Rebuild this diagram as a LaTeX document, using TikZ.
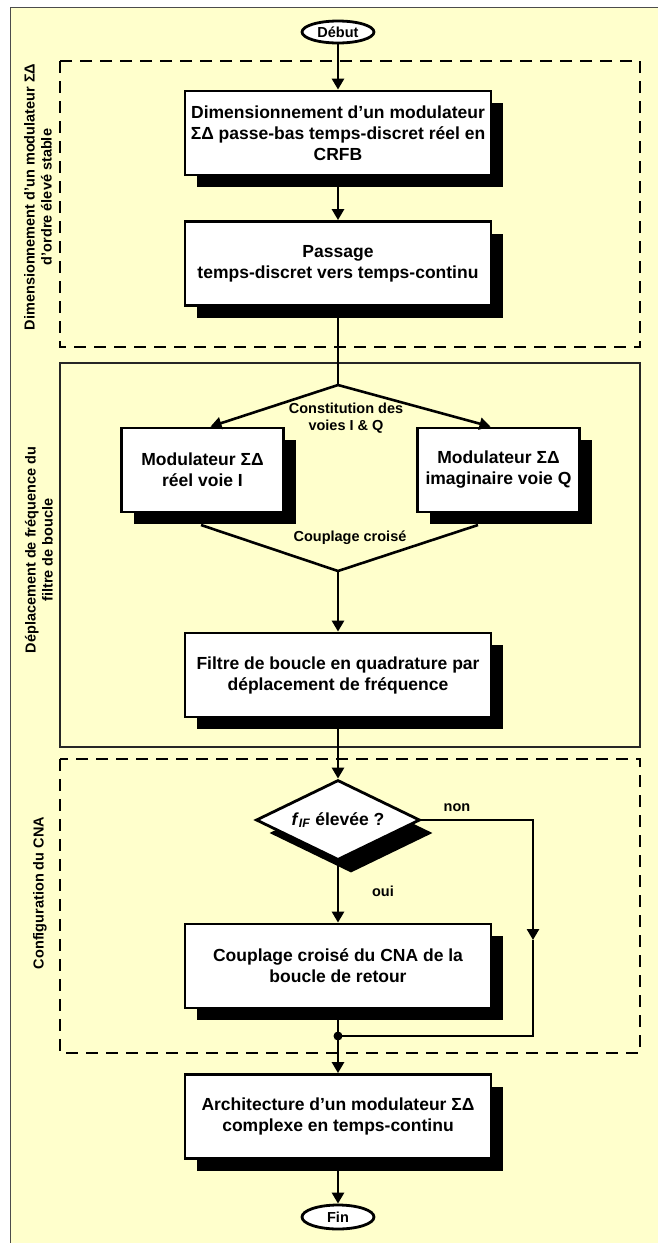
\documentclass[tikz,border=0pt]{standalone}
\usepackage{fontspec}
\setmainfont{Liberation Sans}
\usetikzlibrary{arrows.meta,shapes.geometric,shadows,calc}
\definecolor{bgyellow}{HTML}{FFFFCC}
\begin{document}
\begin{tikzpicture}[x=1pt,y=-1pt,
  shad/.style={drop shadow={shadow xshift=12pt,shadow yshift=-12pt,opacity=1,fill=black}},
  box/.style={draw=black,line width=2.8pt,fill=white,minimum width=306pt,minimum height=84pt,
    inner sep=0pt,align=center,font=\bfseries\fontsize{17.5}{21}\selectfont,shad},
  sbox/.style={box,minimum width=162pt},
  dia/.style={diamond,aspect=2,draw=black,line width=2.8pt,fill=white,minimum width=164pt,
    minimum height=80pt,inner sep=0pt,font=\bfseries\fontsize{17.5}{21}\selectfont,
    drop shadow={shadow xshift=13pt,shadow yshift=-13pt,opacity=1,fill=black}},
  term/.style={ellipse,draw=black,line width=2.8pt,fill=white,minimum width=72pt,minimum height=22pt,
    inner sep=0pt,font=\bfseries\fontsize{14.5}{17}\selectfont},
  conn/.style={line width=2.6pt,draw=black},
  arr/.style={conn,-{Triangle[length=11pt,width=12pt]}},
  lbl/.style={align=center,font=\bfseries\fontsize{14.5}{17}\selectfont,inner sep=0pt},
  side/.style={lbl,rotate=90},
  dframe/.style={draw=black,line width=1.8pt,dash pattern=on 12pt off 8pt},
  sframe/.style={draw=black!85,line width=1.5pt}
]
% background
\useasboundingbox (0,0) rectangle (658,1243);
\fill[white] (0,0) rectangle (658,1243);
\fill[bgyellow] (10,7) rectangle (660,1245);
\draw[black!70,line width=1pt] (10,1245) -- (10,7) -- (660,7);

% frames
\draw[dframe] (60,61) rectangle (640,347);
\draw[sframe] (60,363) rectangle (640,747);
\draw[dframe] (60,759) rectangle (640,1053);

% side labels
\node[side] (lab1) at (38,197) {Dimensionnement d’un modulateur ΣΔ\\d’ordre élevé stable};
\node[side] (lab2) at (39,550) {Déplacement de fréquence du\\filtre de boucle};
\node[side] (lab3) at (40,893) {Configuration du CNA};

% nodes
\node[term] (debut) at (338,32) {Début};
\node[box] (b1) at (338,133) {Dimensionnement d’un modulateur\\ΣΔ passe-bas temps-discret réel en\\CRFB};
\node[box] (b2) at (338,263.5) {Passage\\ temps-discret vers temps-continu};
\node[sbox] (mI) at (202.5,470) {Modulateur ΣΔ\\réel voie I};
\node[sbox] (mQ) at (498.5,470) {Modulateur ΣΔ\\imaginaire voie Q};
\node[box] (b3) at (338,675) {Filtre de boucle en quadrature par\\déplacement de fréquence};
\node[dia] (dia) at (338,820) {\textit{f}\textsubscript{\textit{IF}} élevée ?};
\node[box] (b4) at (338,966) {Couplage croisé du CNA de la\\boucle de retour};
\node[box] (b5) at (338,1116.5) {Architecture d’un modulateur ΣΔ\\complexe en temps-continu};
\node[term,minimum height=24pt] (fin) at (338,1217) {Fin};

% coordinates
\coordinate (split) at (338,385);
\coordinate (cl) at (201,525);
\coordinate (cr) at (478,525);
\coordinate (join) at (338,571);
\coordinate (ne) at (533,820);
\coordinate (nmid) at (533,940);
\coordinate (nb) at (533,1036);
\coordinate (dot) at (338,1036);

% connectors
\draw[arr] (debut.south) -- (b1.north);
\draw[arr] (b1.south) -- (b2.north);
\draw[conn] (b2.south) -- (split);
\draw[arr] (split) -- ([xshift=8pt]mI.north);
\draw[arr] (split) -- ([xshift=-8pt]mQ.north);
\draw[conn] (cl) -- (join) -- (cr);
\draw[arr] (join) -- (b3.north);
\draw[arr] (b3.south) -- (dia.north);
\draw[arr] (dia.east) -- (ne) -- (nmid);
\draw[conn] (nmid) -- (nb) -- (dot);
\draw[arr] (dia.south) -- (b4.north);
\draw[conn] (b4.south) -- (dot);
\draw[arr] (dot) -- (b5.north);
\draw[arr] (b5.south) -- (fin.north);
\fill[black] (dot) circle (4.5pt);

% labels
\node[lbl] (lconst) at (346,418) {Constitution des\\voies I \& Q};
\node[lbl] (lcoup) at (350,538) {Couplage croisé};
\node[lbl] (lnon) at (457,808) {non};
\node[lbl] (loui) at (383,891) {oui};
\end{tikzpicture}
\end{document}
